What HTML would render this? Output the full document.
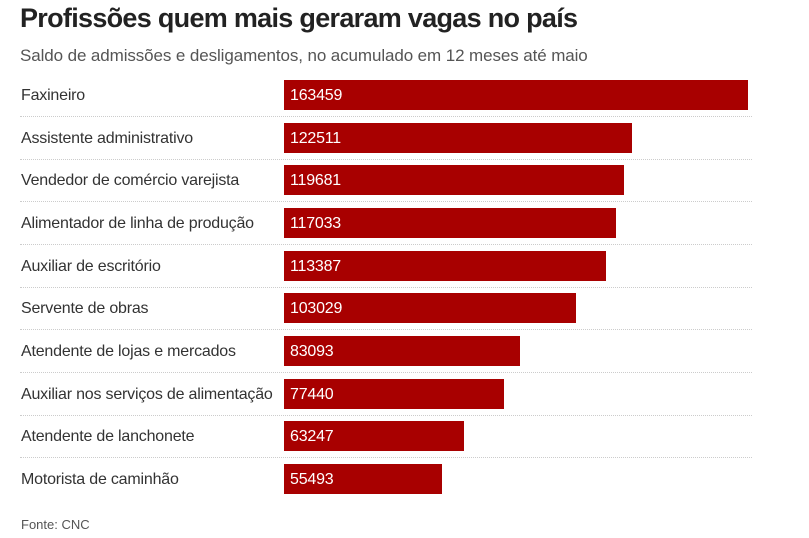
<!DOCTYPE html>
<html><head><meta charset="utf-8"><style>
body{margin:0;width:809px;height:538px;background:#fff;font-family:"Liberation Sans",sans-serif;position:relative;overflow:hidden}
.t{position:absolute;left:20px;top:3px;font-size:27px;font-weight:bold;color:#222;letter-spacing:-0.7px}
.s{position:absolute;left:20px;top:46px;font-size:17px;color:#555;letter-spacing:-0.1px}
.r{position:absolute;left:0;width:809px;height:43px}
.l{position:absolute;left:21px;top:7px;font-size:16px;color:#333;letter-spacing:-0.2px}
.b{position:absolute;left:284px;top:0;height:30px;background:#a80000;color:#fff;font-size:16px;line-height:31px;padding-left:6px;box-sizing:border-box;letter-spacing:-0.2px}
.d{position:absolute;left:20px;width:732px;top:36px;border-top:1px dotted #ccc}
.f{position:absolute;left:21px;top:517px;font-size:13px;color:#555}
</style></head><body>
<div class="t">Profissões quem mais geraram vagas no país</div>
<div class="s">Saldo de admissões e desligamentos, no acumulado em 12 meses até maio</div>
<div class="r" style="top:80px"><div class="l">Faxineiro</div><div class="b" style="width:464px">163459</div><div class="d"></div></div>
<div class="r" style="top:122.7px"><div class="l">Assistente administrativo</div><div class="b" style="width:348px">122511</div><div class="d"></div></div>
<div class="r" style="top:165.3px"><div class="l">Vendedor de comércio varejista</div><div class="b" style="width:340px">119681</div><div class="d"></div></div>
<div class="r" style="top:208px"><div class="l">Alimentador de linha de produção</div><div class="b" style="width:332px">117033</div><div class="d"></div></div>
<div class="r" style="top:250.7px"><div class="l">Auxiliar de escritório</div><div class="b" style="width:322px">113387</div><div class="d"></div></div>
<div class="r" style="top:293.3px"><div class="l">Servente de obras</div><div class="b" style="width:292px">103029</div><div class="d"></div></div>
<div class="r" style="top:336px"><div class="l">Atendente de lojas e mercados</div><div class="b" style="width:236px">83093</div><div class="d"></div></div>
<div class="r" style="top:378.7px"><div class="l">Auxiliar nos serviços de alimentação</div><div class="b" style="width:220px">77440</div><div class="d"></div></div>
<div class="r" style="top:421.3px"><div class="l">Atendente de lanchonete</div><div class="b" style="width:180px">63247</div><div class="d"></div></div>
<div class="r" style="top:464px"><div class="l">Motorista de caminhão</div><div class="b" style="width:158px">55493</div></div>
<div class="f">Fonte: CNC</div>
</body></html>
